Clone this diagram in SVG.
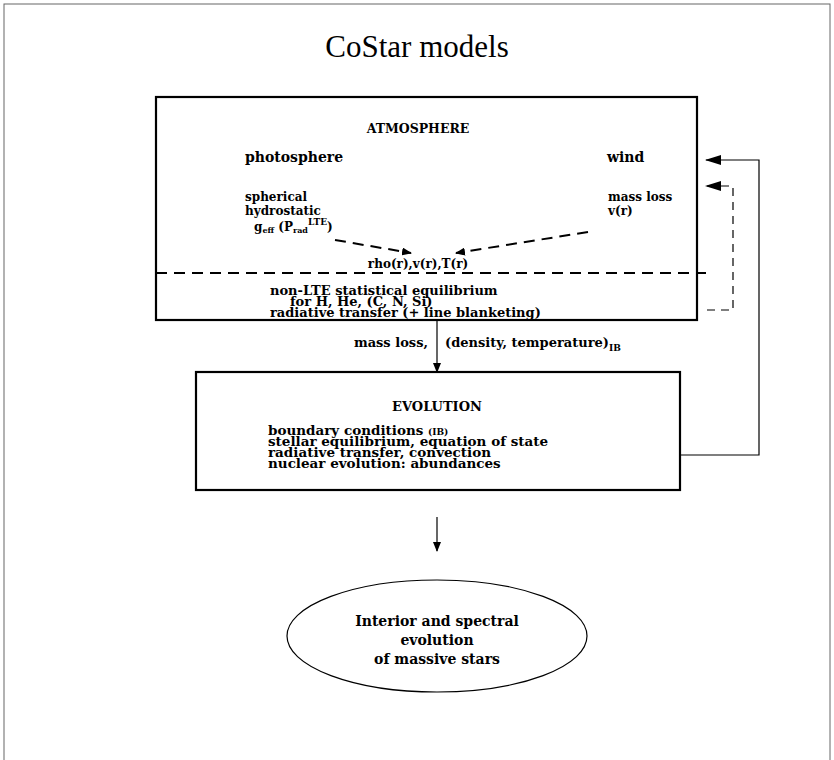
<svg xmlns="http://www.w3.org/2000/svg" width="834" height="760" viewBox="0 0 834 760">
<style>
.b{font-family:"DejaVu Serif","Liberation Serif",serif;font-weight:bold;fill:#000}
.box{fill:none;stroke:#000;stroke-width:2.2}
.thin{fill:none;stroke:#000;stroke-width:1.2}
.dash{fill:none;stroke:#000;stroke-width:2;stroke-dasharray:11 7}
.dthin{fill:none;stroke:#000;stroke-width:1.2;stroke-dasharray:8 6}
</style>
<defs>
<marker id="ah" markerWidth="10" markerHeight="8" refX="9" refY="4" orient="auto" markerUnits="userSpaceOnUse"><path d="M0,0 L10,4 L0,8 z" fill="#000"/></marker>
<marker id="ahw" markerWidth="16" markerHeight="10" refX="15" refY="5" orient="auto" markerUnits="userSpaceOnUse"><path d="M0,0 L16,5 L0,10 z" fill="#000"/></marker>
</defs>
<rect x="4" y="4" width="826" height="780" fill="#fff" stroke="#666" stroke-width="1"/>
<text x="417" y="57" font-family="Liberation Serif, serif" font-size="31" text-anchor="middle">CoStar models</text>

<g id="atmosphere">
<rect class="box" x="156" y="97" width="541" height="223"/>
<text class="b" x="418" y="133" font-size="12.5" text-anchor="middle">ATMOSPHERE</text>
<text class="b" x="245" y="162" font-size="14">photosphere</text>
<text class="b" x="607" y="162" font-size="14">wind</text>
<text class="b" x="245" y="201" font-size="12">spherical</text>
<text class="b" x="245" y="215" font-size="12">hydrostatic</text>
<text class="b" x="254" y="231" font-size="12">g<tspan font-size="8" dy="2">eff</tspan><tspan dy="-2"> (P</tspan><tspan font-size="8" dy="2">rad</tspan><tspan font-size="9" dy="-8">LTE</tspan><tspan dy="6">)</tspan></text>
<text class="b" x="608" y="201" font-size="12">mass loss</text>
<text class="b" x="608" y="215" font-size="12">v(r)</text>
<text class="b" x="418" y="268" font-size="12" text-anchor="middle">rho(r),v(r),T(r)</text>
<path class="dash" d="M156,273 H706"/>
<text class="b" x="270" y="295" font-size="13">non-LTE statistical equilibrium</text>
<text class="b" x="290" y="306" font-size="13">for H, He, (C, N, Si)</text>
<text class="b" x="270" y="317" font-size="13">radiative transfer (+ line blanketing)</text>
</g>

<g id="evolution">
<rect class="box" x="196" y="372" width="484" height="118"/>
<text class="b" x="437" y="411" font-size="13" text-anchor="middle">EVOLUTION</text>
<text class="b" x="268" y="435" font-size="13.5">boundary conditions <tspan font-size="9">(IB)</tspan></text>
<text class="b" x="268" y="446" font-size="13.5">stellar equilibrium, equation of state</text>
<text class="b" x="268" y="457" font-size="13.5">radiative transfer, convection</text>
<text class="b" x="268" y="468" font-size="13.5">nuclear evolution: abundances</text>
</g>

<g id="result">
<ellipse cx="437" cy="636" rx="150" ry="56" fill="none" stroke="#000" stroke-width="1.2"/>
<text class="b" x="437" y="626" font-size="14" text-anchor="middle">Interior and spectral</text>
<text class="b" x="437" y="645" font-size="14" text-anchor="middle">evolution</text>
<text class="b" x="437" y="664" font-size="14" text-anchor="middle">of massive stars</text>
</g>

<g id="connectors">
<path class="dash" d="M335,240 L411,253" marker-end="url(#ah)"/>
<path class="dash" d="M588,232 L456,253" marker-end="url(#ah)"/>
<path class="thin" d="M437,320 V372" marker-end="url(#ah)"/>
<path class="thin" d="M437,517 V551" marker-end="url(#ah)"/>
<path class="thin" d="M680,455 H759 V160 H706" marker-end="url(#ahw)"/>
<path class="dthin" d="M707,310 H733 V186 H706" marker-end="url(#ahw)"/>
<text class="b" x="428" y="347" font-size="13" text-anchor="end">mass loss,</text>
<text class="b" x="445" y="347" font-size="13">(density, temperature)<tspan font-size="9" dy="4">IB</tspan></text>
</g>
</svg>
